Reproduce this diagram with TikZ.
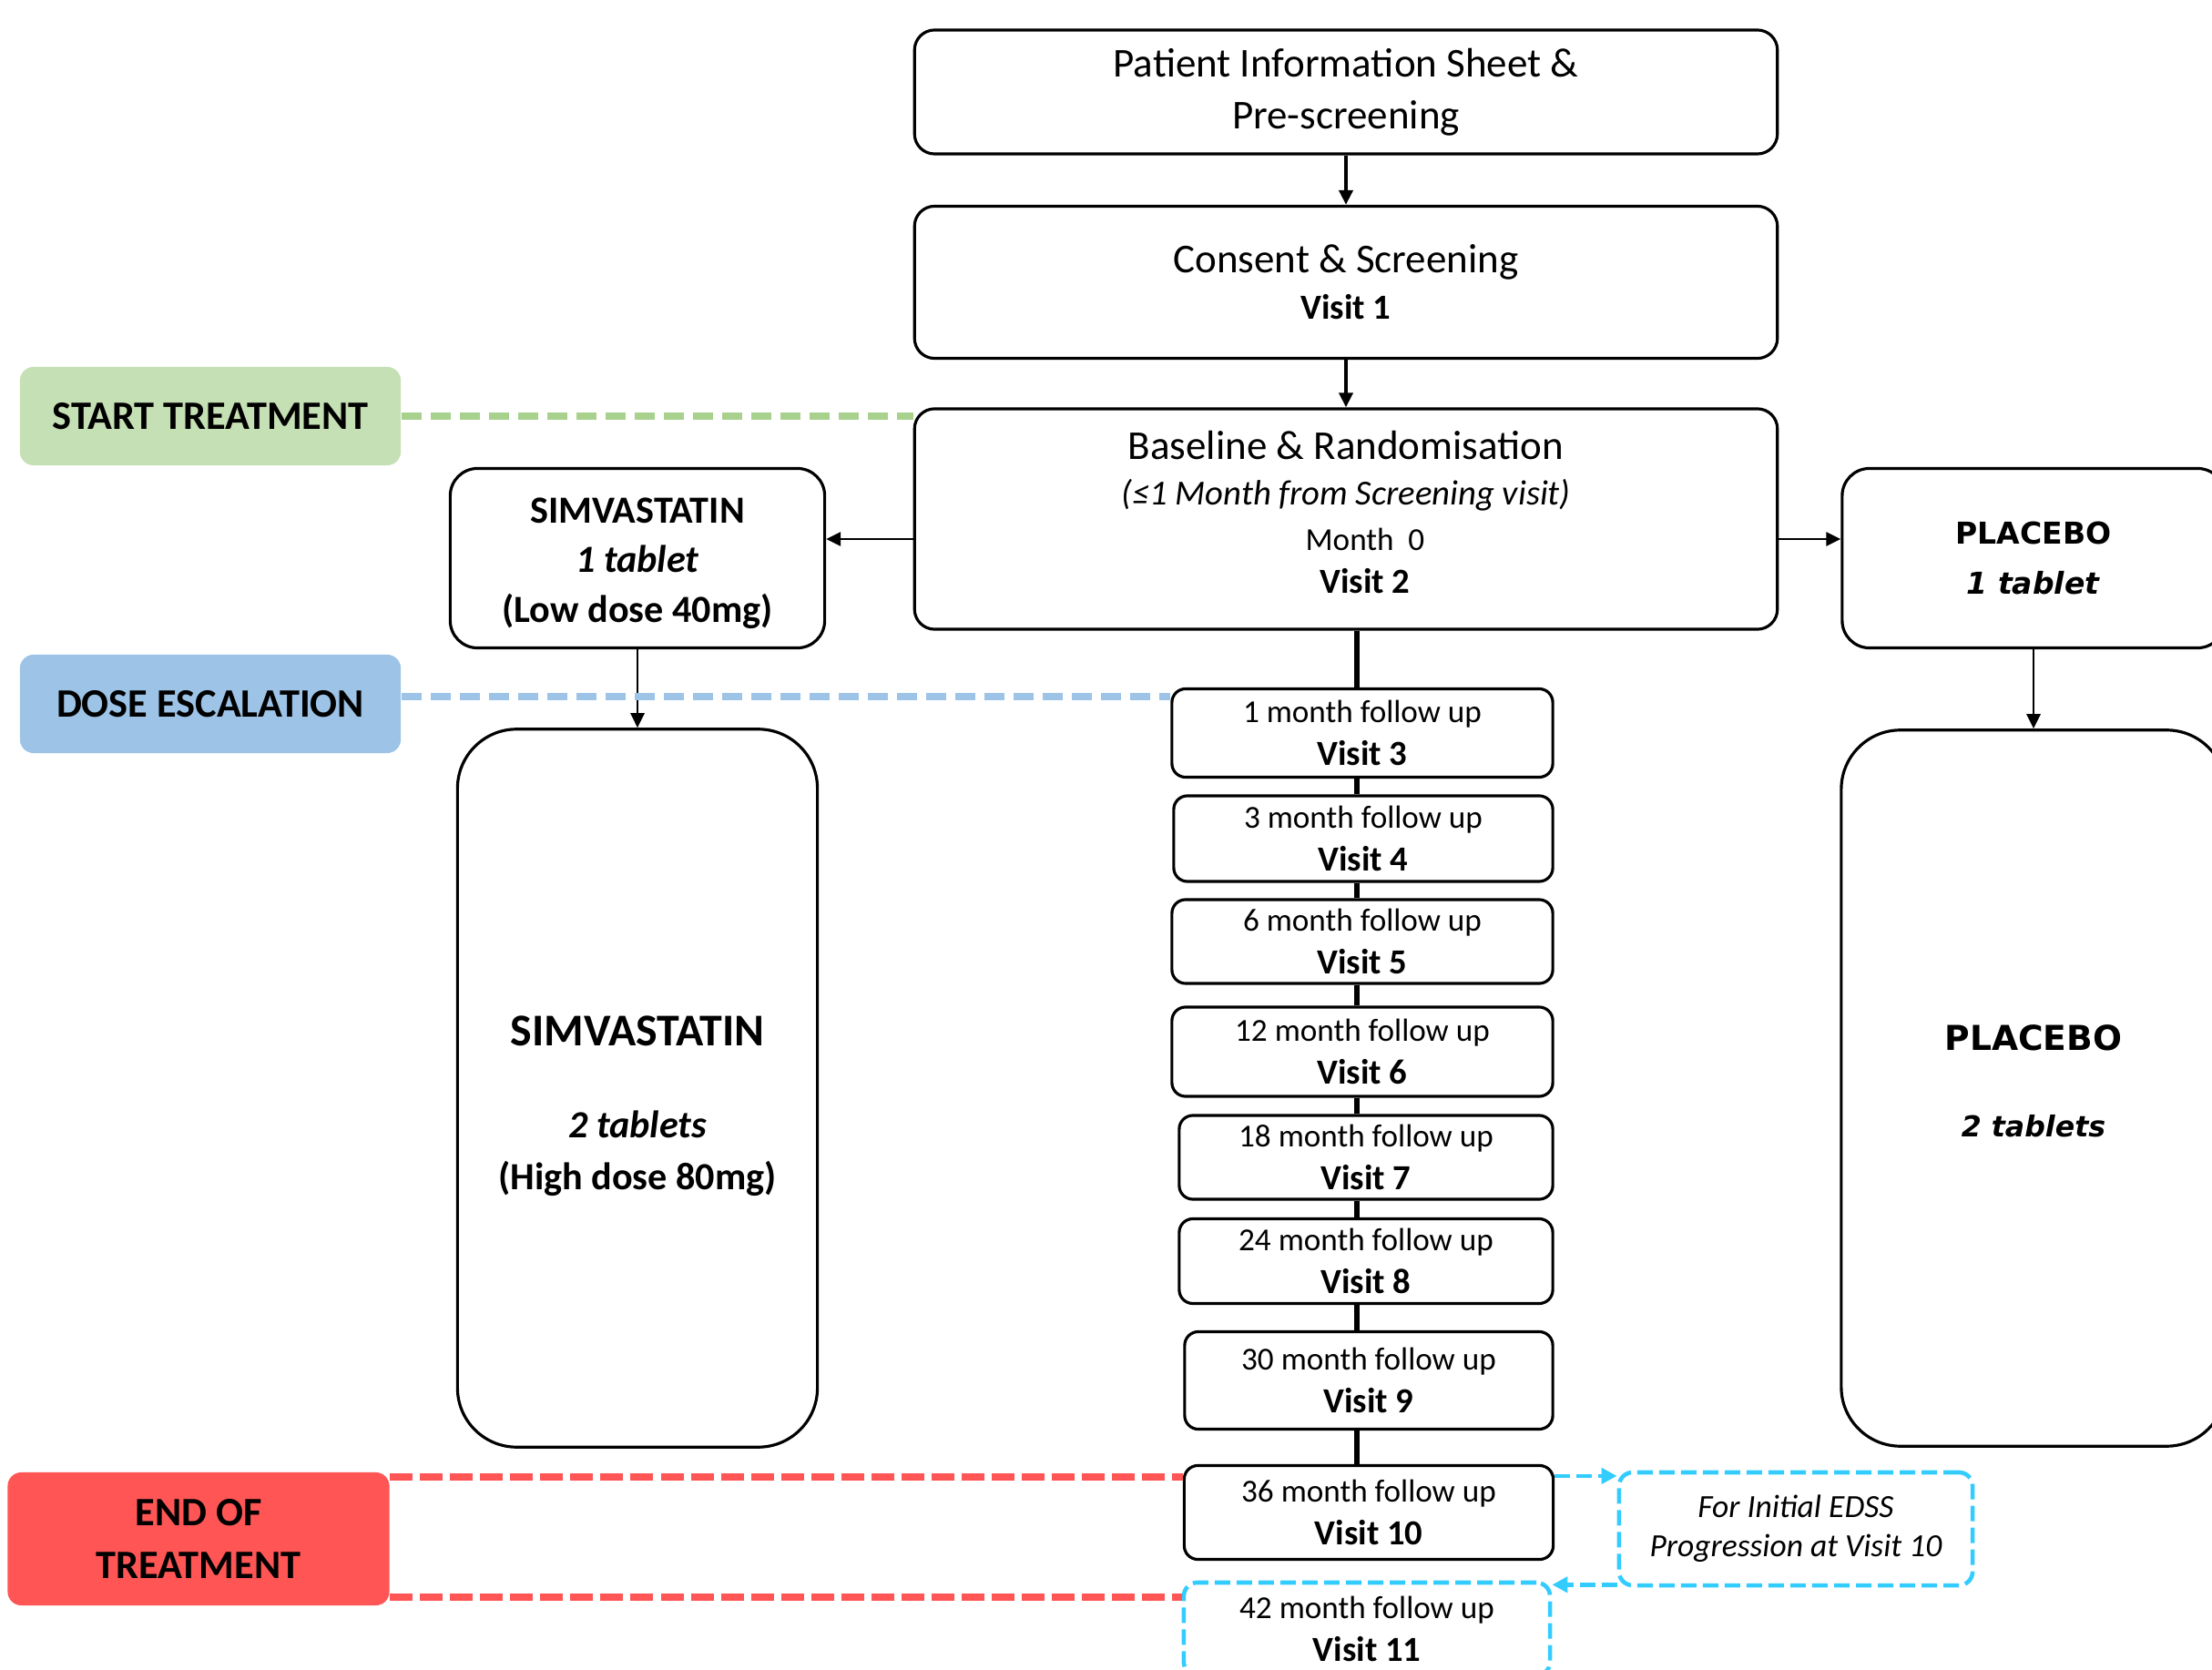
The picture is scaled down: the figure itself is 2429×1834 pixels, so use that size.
\documentclass[tikz,border=0pt]{standalone}
\usepackage{fontspec}
\setmainfont{Carlito}
\newfontfamily\verd{DejaVu Sans}
\usetikzlibrary{arrows.meta}

\definecolor{startgreen}{RGB}{197,224,180}
\definecolor{dashgreen}{RGB}{169,209,142}
\definecolor{doseblue}{RGB}{157,195,230}
\definecolor{endred}{RGB}{255,85,85}
\definecolor{edsscyan}{RGB}{51,204,255}

\newcommand{\vis}[1]{{\bfseries\fontsize{11}{13.3}\selectfont #1}}

\begin{document}
\begin{tikzpicture}[x=0.01cm,y=-0.01cm,
    box/.style={draw,line width=0.9pt,rounded corners=0.22cm,align=center,inner sep=0pt,fill=white},
    visit/.style={box,rounded corners=0.15cm,font=\fontsize{10}{13.3}\selectfont},
    cbox/.style={draw=edsscyan,line width=1.3pt,dash pattern=on 0.17cm off 0.07cm},
    flag/.style={rounded corners=0.15cm,align=center,inner sep=0pt,minimum width=4.18cm,font=\bfseries\fontsize{12.6}{16.5}\selectfont},
    arr/.style={-{Triangle[length=0.16cm,width=0.15cm]},line width=1.1pt},
    carr/.style={-{Triangle[length=0.17cm,width=0.17cm]},draw=edsscyan,line width=1.3pt,dash pattern=on 0.17cm off 0.07cm},
    trunk/.style={line width=1.5pt},
    gdash/.style={draw=dashgreen,line width=2.3pt,dash pattern=on 0.22cm off 0.1cm},
    bdash/.style={draw=doseblue,line width=2.3pt,dash pattern=on 0.22cm off 0.1cm},
    rdash/.style={draw=endred,line width=2.3pt,dash pattern=on 0.25cm off 0.08cm}]
    \useasboundingbox (0,0) rectangle (2429,1834);
    \clip (0,0) rectangle (2429,1834);

    % Screening
    \node[box,minimum width=9.47cm,minimum height=1.36cm,font=\fontsize{12.8}{16.2}\selectfont] (info) at (1478,101) {Patient Information Sheet \&\\Pre-screening};
    \node[box,minimum width=9.47cm,minimum height=1.67cm,font=\fontsize{12.8}{14.5}\selectfont] (consent) at (1478,310) {Consent \& Screening\\{\bfseries\fontsize{11}{14.5}\selectfont Visit 1}};
    \node[box,minimum width=9.47cm,minimum height=2.42cm,font=\fontsize{12.8}{14.2}\selectfont] (base) at (1478,570) {Baseline \& Randomisation\\{\itshape\fontsize{11}{14.2}\selectfont (≤1 Month from Screening visit)}\\{\fontsize{10}{14.2}\selectfont\hspace*{0.42cm}Month\ \ 0}\\[-0.03cm]{\bfseries\fontsize{11}{14.2}\selectfont\hspace*{0.42cm}Visit 2}\\[-0.34cm]\mbox{}};

    % Phases
    \node[flag,fill=startgreen,minimum height=1.08cm] (start) at (231,457) {START TREATMENT};
    \node[flag,fill=doseblue,minimum height=1.08cm] (dose) at (231,773) {DOSE ESCALATION};
    \node[flag,fill=endred,minimum width=4.19cm,minimum height=1.46cm] (stop) at (218,1690) {END OF\\TREATMENT};

    % Arms
    \node[box,rounded corners=0.3cm,minimum width=4.11cm,minimum height=1.97cm,font=\bfseries\fontsize{12}{15.4}\selectfont] (simlow) at (700,613) {\mbox{}\\[-0.15cm]SIMVASTATIN\\\textit{1 tablet}\\(Low dose 40mg)};
    \node[box,rounded corners=0.65cm,minimum width=3.95cm,minimum height=7.88cm,font=\bfseries\fontsize{12}{16.3}\selectfont] (simhigh) at (700,1195) {\mbox{}\\[0.15cm]{\fontsize{14.2}{16.3}\selectfont SIMVASTATIN}\\[0.44cm]\textit{2 tablets}\\(High dose 80mg)};
    \node[box,rounded corners=0.3cm,minimum width=4.2cm,minimum height=1.97cm,font=\verd\bfseries\fontsize{9.4}{15.4}\selectfont] (pllow) at (2233,613) {PLACEBO\\\textit{1 tablet}};
    \node[box,rounded corners=0.65cm,minimum width=4.22cm,minimum height=7.86cm,font=\verd\bfseries\fontsize{10.7}{14}\selectfont] (plhigh) at (2233,1195) {PLACEBO\\[0.46cm]{\itshape\fontsize{9}{14}\selectfont 2 tablets}\\[-0.33cm]\mbox{}};

    % Follow up visits
    \foreach \n/\m/\x/\y/\w/\h in {3/1/1496/805/4.18/0.97, 4/3/1497/921/4.16/0.94,
        5/6/1496/1034/4.18/0.92, 6/12/1496/1155/4.18/0.98, 7/18/1500/1271/4.10/0.92,
        8/24/1500/1385/4.10/0.93, 9/30/1503/1516/4.04/1.07, 10/36/1503/1661/4.05/1.03}
      \node[visit,minimum width=\w cm,minimum height=\h cm] (v\n) at (\x,\y) {\m\ month follow up\\\vis{Visit \n}};
    \node[visit,cbox,minimum width=4.02cm,minimum height=1.02cm] (v11) at (1501,1789) {42 month follow up\\\vis{Visit 11}};
    \node[visit,cbox,minimum width=3.88cm,minimum height=1.24cm,font=\itshape\fontsize{10.1}{12.2}\selectfont] (edss) at (1972,1679) {For Initial EDSS\\Progression at Visit 10};

    % Connectors
    \draw[arr] (info) -- (consent);
    \draw[arr] (consent) -- (base);
    \coordinate (lowin) at ([yshift=0.21cm]simlow.east);
    \draw[arr,line width=0.8pt] (base.west |- lowin) -- (lowin);
    \coordinate (plin) at ([yshift=0.21cm]pllow.west);
    \draw[arr,line width=0.8pt] (base.east |- plin) -- (plin);
    \draw[arr,line width=0.8pt] (simlow) -- (simhigh);
    \draw[arr,line width=0.8pt] (pllow) -- (plhigh);
    \coordinate (tx) at ([xshift=-0.06cm]v3.north);
    \draw[trunk] (tx |- base.south) -- (tx);
    \foreach \a/\b in {3/4,4/5,5/6,6/7,7/8,8/9,9/10}
      \draw[trunk] (v\a.south -| tx) -- (v\b.north -| tx);
    \coordinate (c1) at ([yshift=-0.13cm]v10.north east);
    \draw[carr] (c1) -- (c1 -| edss.west);
    \coordinate (c2) at ([yshift=0.03cm]edss.south west);
    \draw[carr] (c2) -- (c2 -| v11.east);

    % Phase lines
    \draw[gdash] (start.east) -- (start.east -| base.west);
    \coordinate (dl) at ([yshift=0.08cm]dose.east);
    \draw[bdash] (dl) -- (dl -| v3.west);
    \coordinate (e1) at ([yshift=-0.06cm]stop.north east);
    \draw[rdash] (e1) -- (e1 -| v10.west);
    \coordinate (e2) at ([yshift=0.1cm]stop.south east);
    \draw[rdash] (e2) -- (e2 -| v11.west);
\end{tikzpicture}
\end{document}
